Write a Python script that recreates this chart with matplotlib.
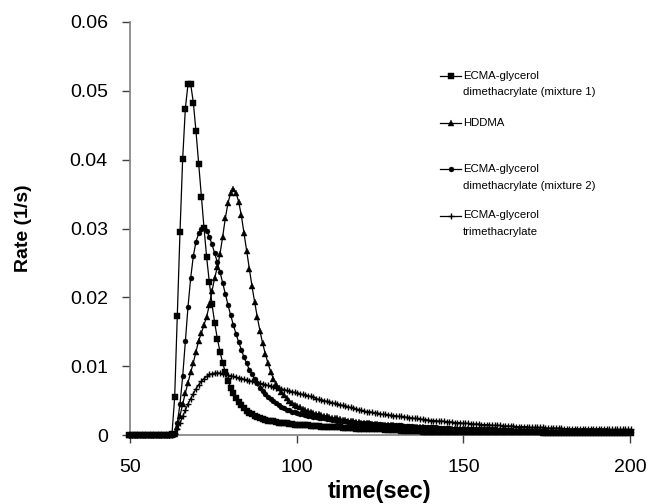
import numpy as np
import matplotlib
matplotlib.use("Agg")
import matplotlib.pyplot as plt
from matplotlib.lines import Line2D

plt.rcParams['font.family'] = ['Liberation Sans', 'DejaVu Sans']

# sampling of the rate curves (s)
T0, DT = 49.8, 0.8

mix1 = [
    0, 0, 0, 0, 0, 0, 0, 0, 0, 0,
    0, 0, 0, 0, 0, 0, 0.0002, 0.0055, 0.0173, 0.0295,
    0.0401, 0.0474, 0.0510, 0.0510, 0.0483, 0.0441, 0.0394, 0.0346, 0.0301, 0.0258,
    0.0222, 0.0190, 0.0163, 0.0140, 0.0121, 0.0105, 0.0091, 0.0079, 0.0069, 0.0061,
    0.0054, 0.0048, 0.0043, 0.0039, 0.0035, 0.0032, 0.0030, 0.0028, 0.0026, 0.0025,
    0.0023, 0.0022, 0.0021, 0.0020, 0.0020, 0.0019, 0.0018, 0.0018, 0.0017, 0.0017,
    0.0016, 0.0016, 0.0015, 0.0015, 0.0015, 0.0014, 0.0014, 0.0014, 0.0013, 0.0013,
    0.0013, 0.0013, 0.0012, 0.0012, 0.0012, 0.0012, 0.0011, 0.0011, 0.0011, 0.0011,
    0.0010, 0.0010, 0.0010, 0.0010, 0.0010, 0.0009, 0.0009, 0.0009, 0.0009, 0.0009,
    0.0008, 0.0008, 0.0008, 0.0008, 0.0008, 0.0008, 0.0007, 0.0007, 0.0007, 0.0007,
    0.0007, 0.0007, 0.0006, 0.0006, 0.0006, 0.0006, 0.0006, 0.0006, 0.0006, 0.0006,
    0.0005, 0.0005, 0.0005, 0.0005, 0.0005, 0.0005, 0.0005, 0.0005, 0.0005, 0.0005,
    0.0005, 0.0005, 0.0005, 0.0005, 0.0005, 0.0005, 0.0005, 0.0005, 0.0005, 0.0005,
    0.0004, 0.0004, 0.0004, 0.0004, 0.0004, 0.0004, 0.0004, 0.0004, 0.0004, 0.0004,
    0.0004, 0.0004, 0.0004, 0.0004, 0.0004, 0.0004, 0.0004, 0.0004, 0.0004, 0.0004,
    0.0004, 0.0004, 0.0004, 0.0004, 0.0004, 0.0003, 0.0003, 0.0003, 0.0003, 0.0003,
    0.0003, 0.0003, 0.0003, 0.0003, 0.0003, 0.0003, 0.0003, 0.0003, 0.0003, 0.0003,
    0.0003, 0.0003, 0.0003, 0.0003, 0.0003, 0.0003, 0.0003, 0.0003, 0.0003, 0.0003,
    0.0003, 0.0003, 0.0003, 0.0003, 0.0003, 0.0003, 0.0003, 0.0003, 0.0003,
]

hddma = [
    0, 0, 0, 0, 0, 0, 0, 0, 0, 0,
    0, 0, 0, 0, 0, 0, 0, 0.0002, 0.0012, 0.0028,
    0.0045, 0.0061, 0.0076, 0.0091, 0.0105, 0.0121, 0.0137, 0.0148, 0.0160, 0.0172,
    0.0189, 0.0209, 0.0228, 0.0244, 0.0263, 0.0288, 0.0315, 0.0337, 0.0352, 0.0358,
    0.0352, 0.0339, 0.0319, 0.0293, 0.0267, 0.0241, 0.0216, 0.0193, 0.0171, 0.0151,
    0.0133, 0.0118, 0.0104, 0.0092, 0.0082, 0.0074, 0.0068, 0.0063, 0.0058, 0.0054,
    0.0050, 0.0047, 0.0044, 0.0042, 0.0040, 0.0038, 0.0036, 0.0035, 0.0033, 0.0032,
    0.0031, 0.0030, 0.0029, 0.0028, 0.0027, 0.0026, 0.0025, 0.0024, 0.0024, 0.0023,
    0.0022, 0.0022, 0.0021, 0.0020, 0.0020, 0.0019, 0.0019, 0.0018, 0.0018, 0.0017,
    0.0017, 0.0016, 0.0016, 0.0016, 0.0015, 0.0015, 0.0015, 0.0014, 0.0014, 0.0014,
    0.0013, 0.0013, 0.0013, 0.0012, 0.0012, 0.0012, 0.0012, 0.0011, 0.0011, 0.0011,
    0.0011, 0.0010, 0.0010, 0.0010, 0.0010, 0.0010, 0.0009, 0.0009, 0.0009, 0.0009,
    0.0009, 0.0008, 0.0008, 0.0008, 0.0008, 0.0008, 0.0008, 0.0008, 0.0007, 0.0007,
    0.0007, 0.0007, 0.0007, 0.0007, 0.0007, 0.0007, 0.0007, 0.0007, 0.0007, 0.0007,
    0.0007, 0.0007, 0.0006, 0.0006, 0.0006, 0.0006, 0.0006, 0.0006, 0.0006, 0.0006,
    0.0006, 0.0006, 0.0006, 0.0006, 0.0006, 0.0006, 0.0005, 0.0005, 0.0005, 0.0005,
    0.0005, 0.0005, 0.0005, 0.0005, 0.0005, 0.0005, 0.0005, 0.0005, 0.0005, 0.0005,
    0.0005, 0.0005, 0.0005, 0.0005, 0.0005, 0.0005, 0.0005, 0.0005, 0.0005, 0.0004,
    0.0004, 0.0004, 0.0004, 0.0004, 0.0004, 0.0004, 0.0004, 0.0004,
]

mix2 = [
    0, 0, 0, 0, 0, 0, 0, 0, 0, 0,
    0, 0, 0, 0, 0, 0, 0, 0.0003, 0.0018, 0.0045,
    0.0085, 0.0136, 0.0186, 0.0228, 0.0260, 0.0281, 0.0293, 0.0300, 0.0301, 0.0297,
    0.0288, 0.0277, 0.0264, 0.0251, 0.0237, 0.0221, 0.0205, 0.0189, 0.0174, 0.0160,
    0.0147, 0.0135, 0.0124, 0.0113, 0.0104, 0.0095, 0.0088, 0.0081, 0.0075, 0.0069,
    0.0064, 0.0059, 0.0055, 0.0052, 0.0049, 0.0046, 0.0043, 0.0041, 0.0039, 0.0037,
    0.0036, 0.0034, 0.0033, 0.0032, 0.0031, 0.0030, 0.0029, 0.0028, 0.0027, 0.0026,
    0.0026, 0.0025, 0.0024, 0.0024, 0.0023, 0.0023, 0.0022, 0.0022, 0.0021, 0.0021,
    0.0020, 0.0020, 0.0019, 0.0019, 0.0019, 0.0018, 0.0018, 0.0018, 0.0017, 0.0017,
    0.0017, 0.0016, 0.0016, 0.0016, 0.0016, 0.0015, 0.0015, 0.0015, 0.0015, 0.0014,
    0.0014, 0.0014, 0.0014, 0.0013, 0.0013, 0.0013, 0.0013, 0.0012, 0.0012, 0.0012,
    0.0012, 0.0011, 0.0011, 0.0011, 0.0011, 0.0011, 0.0010, 0.0010, 0.0010, 0.0010,
    0.0010, 0.0009, 0.0009, 0.0009, 0.0009, 0.0009, 0.0009, 0.0009, 0.0008, 0.0008,
    0.0008, 0.0008, 0.0008, 0.0008, 0.0008, 0.0008, 0.0008, 0.0008, 0.0007, 0.0007,
    0.0007, 0.0007, 0.0007, 0.0007, 0.0006, 0.0006, 0.0006, 0.0006, 0.0006, 0.0006,
    0.0006, 0.0006, 0.0006, 0.0006, 0.0006, 0.0006, 0.0006, 0.0005, 0.0005, 0.0005,
    0.0005, 0.0005, 0.0005, 0.0005, 0.0005, 0.0005, 0.0005, 0.0005, 0.0005, 0.0005,
    0.0005, 0.0005, 0.0005, 0.0005, 0.0005, 0.0005, 0.0005, 0.0005, 0.0005, 0.0005,
    0.0005, 0.0005, 0.0004, 0.0004, 0.0004, 0.0004, 0.0004, 0.0004, 0.0004,
]

trimeth = [
    0, 0, 0, 0, 0, 0, 0, 0, 0, 0,
    0, 0, 0, 0, 0, 0, 0, 0.0002, 0.0008, 0.0017,
    0.0027, 0.0036, 0.0045, 0.0053, 0.0060, 0.0067, 0.0073, 0.0078, 0.0082, 0.0085,
    0.0088, 0.0089, 0.0090, 0.0090, 0.0090, 0.0089, 0.0088, 0.0087, 0.0086, 0.0085,
    0.0084, 0.0083, 0.0082, 0.0081, 0.0080, 0.0079, 0.0078, 0.0077, 0.0076, 0.0075,
    0.0074, 0.0073, 0.0072, 0.0071, 0.0070, 0.0069, 0.0068, 0.0067, 0.0066, 0.0065,
    0.0064, 0.0063, 0.0062, 0.0061, 0.0060, 0.0059, 0.0058, 0.0057, 0.0056, 0.0055,
    0.0053, 0.0052, 0.0051, 0.0050, 0.0049, 0.0048, 0.0047, 0.0046, 0.0045, 0.0044,
    0.0043, 0.0042, 0.0041, 0.0040, 0.0039, 0.0038, 0.0037, 0.0036, 0.0035, 0.0034,
    0.0034, 0.0033, 0.0032, 0.0032, 0.0031, 0.0030, 0.0030, 0.0029, 0.0029, 0.0028,
    0.0028, 0.0027, 0.0027, 0.0026, 0.0026, 0.0025, 0.0025, 0.0024, 0.0024, 0.0023,
    0.0023, 0.0022, 0.0022, 0.0021, 0.0021, 0.0021, 0.0020, 0.0020, 0.0020, 0.0019,
    0.0019, 0.0019, 0.0018, 0.0018, 0.0018, 0.0017, 0.0017, 0.0017, 0.0016, 0.0016,
    0.0016, 0.0016, 0.0015, 0.0015, 0.0015, 0.0015, 0.0014, 0.0014, 0.0014, 0.0014,
    0.0013, 0.0013, 0.0013, 0.0013, 0.0013, 0.0012, 0.0012, 0.0012, 0.0012, 0.0012,
    0.0011, 0.0011, 0.0011, 0.0011, 0.0011, 0.0011, 0.0010, 0.0010, 0.0010, 0.0010,
    0.0010, 0.0010, 0.0010, 0.0009, 0.0009, 0.0009, 0.0009, 0.0009, 0.0009, 0.0009,
    0.0009, 0.0009, 0.0009, 0.0009, 0.0009, 0.0009, 0.0009, 0.0009, 0.0009, 0.0009,
    0.0008, 0.0008, 0.0008, 0.0008, 0.0008, 0.0008, 0.0008, 0.0008, 0.0008,
]

labels = [
    "ECMA-glycerol\ndimethacrylate (mixture 1)",
    "HDDMA",
    "ECMA-glycerol\ndimethacrylate (mixture 2)",
    "ECMA-glycerol\ntrimethacrylate",
]
series = [mix1, hddma, mix2, trimeth]
markers = [('s', 4.0), ('^', 4.2), ('o', 3.6), ('+', 4.0)]

xticks = [50, 100, 150, 200]
yticks = [0, 0.01, 0.02, 0.03, 0.04, 0.05, 0.06]
ytick_labels = ['0', '0.01', '0.02', '0.03', '0.04', '0.05', '0.06']

W, H = 651, 504
fig = plt.figure(figsize=(W / 100, H / 100), dpi=100)
ax = fig.add_axes([130 / W, 1 - 435 / H, 500 / W, 413 / H])

for vals, (m, ms) in zip(series, markers):
    t = T0 + DT * np.arange(len(vals))
    ax.plot(t, vals, color='black', lw=0.9, marker=m, ms=ms,
            mew=1.0 if m == '+' else 0.3, mfc='black', mec='black',
            clip_on=False, zorder=3)

ax.set_xlim(50, 200)
ax.set_ylim(0, 0.06)
ax.set_xticks(xticks)
ax.set_yticks(yticks)
ax.set_yticklabels(ytick_labels)
ax.tick_params(labelsize=14, length=6, width=1, color='#404040')
ax.tick_params(axis='y', pad=10)
ax.tick_params(axis='x', pad=11)
for side in ('top', 'right'):
    ax.spines[side].set_visible(False)
for side in ('left', 'bottom'):
    ax.spines[side].set_color('#808080')
    ax.spines[side].set_linewidth(1.2)

ax.set_xlabel('time(sec)', fontsize=17, fontweight='bold', labelpad=3)
ax.set_ylabel('Rate (1/s)', fontsize=14, fontweight='bold', labelpad=27)

# legend drawn by hand: handle on the first line of each label
def fx(px):
    return px / W

def fy(py):
    return 1 - py / H

entry_y = [75.7, 123.3, 169.3, 215.5]
for lab, (m, ms), py in zip(labels, markers, entry_y):
    fig.add_artist(Line2D([fx(440), fx(450.5), fx(461)], [fy(py)] * 3,
                          transform=fig.transFigure, color='black', lw=0.9,
                          marker=m, ms=ms, markevery=[1],
                          mew=1.0 if m == '+' else 0.3, mfc='black', mec='black'))
    for i, line in enumerate(lab.split('\n')):
        fig.text(fx(463), fy(py + 16.7 * i), line, fontsize=8.2,
                 va='center', ha='left')

fig.savefig('out.png', dpi=100)
